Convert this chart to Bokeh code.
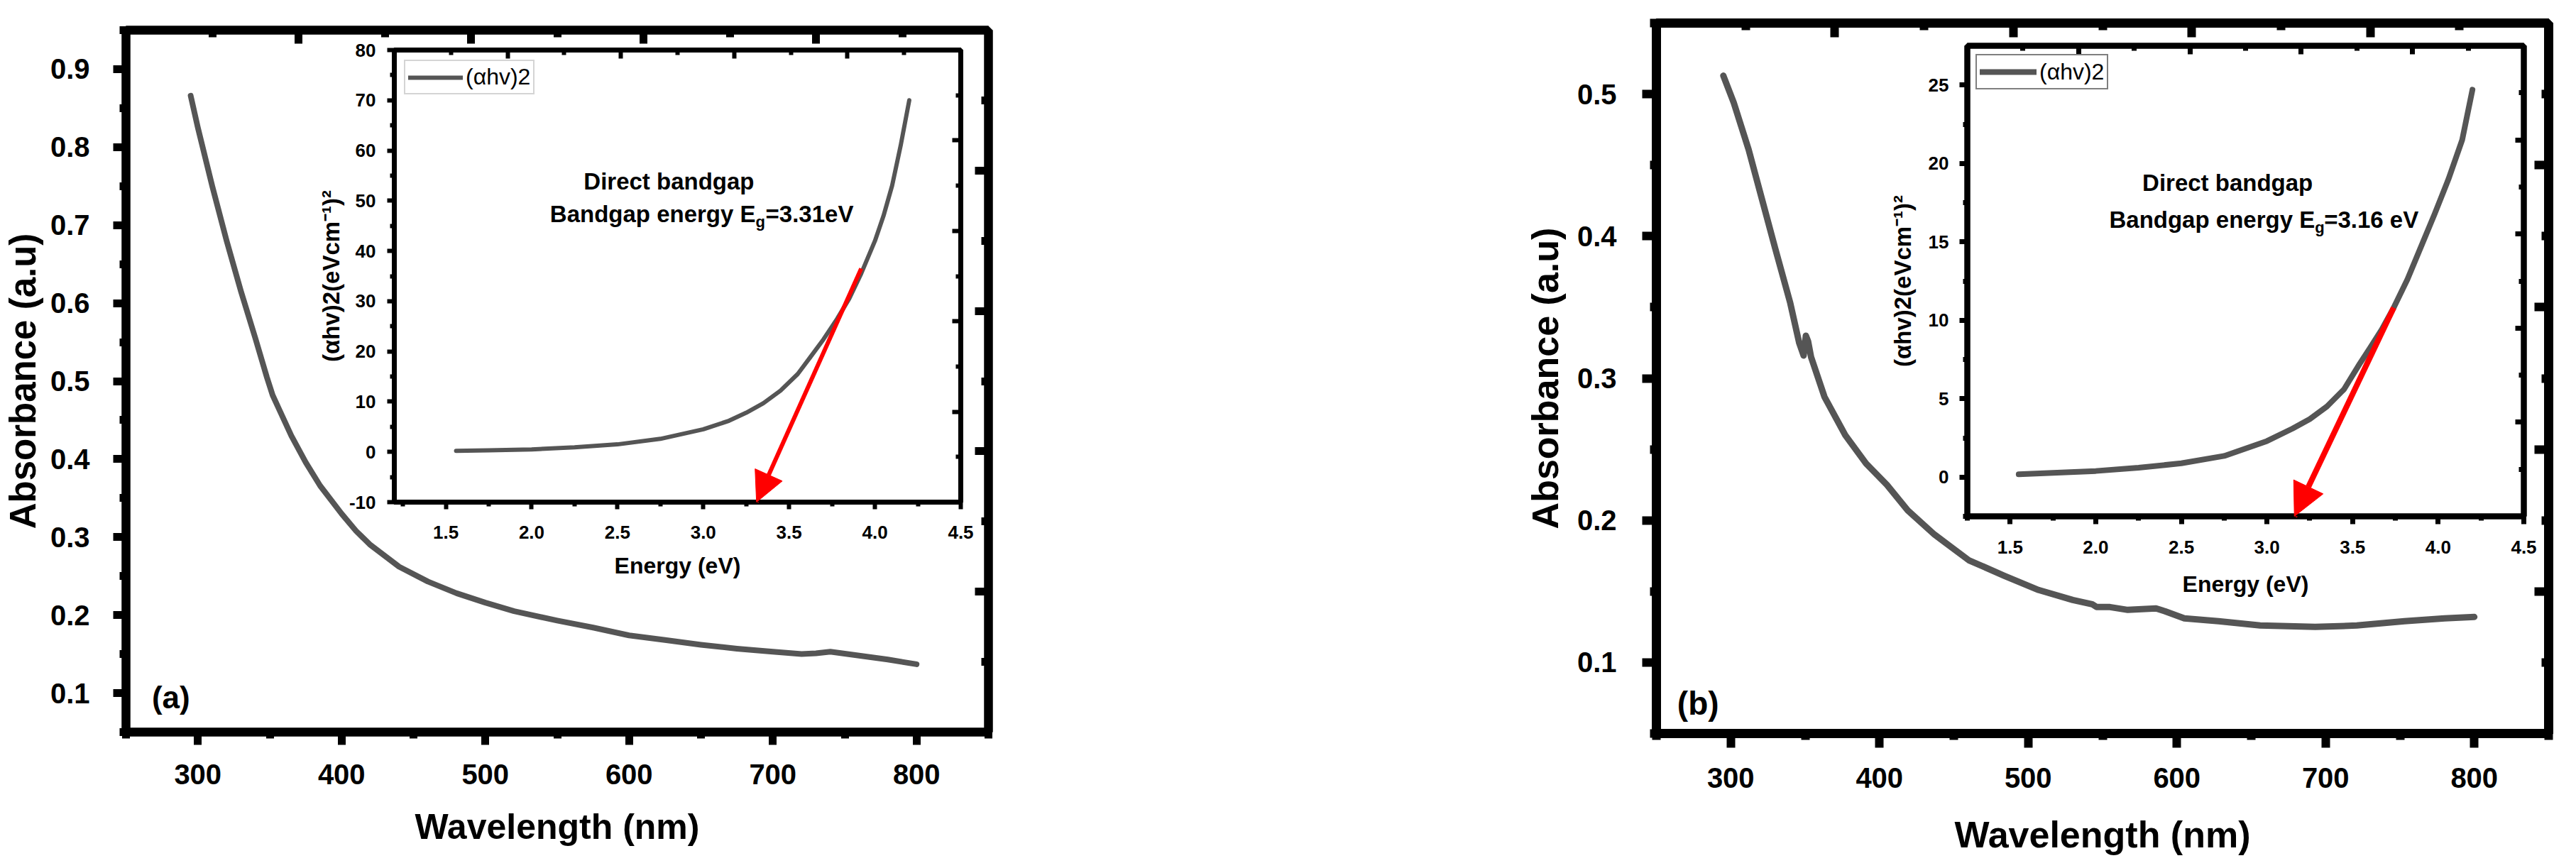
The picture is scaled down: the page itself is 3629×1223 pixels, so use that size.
from bokeh.plotting import figure
from bokeh.models import (Range1d, LinearAxis, FixedTicker, NumeralTickFormatter,
                          CustomJSTickFormatter, Arrow, NormalHead, Label, Legend,
                          LegendItem, Row, GridBox)
from bokeh.embed import file_html
from bokeh.resources import INLINE

FONT = "Liberation Sans"
GRAY = "#555555"

# ---------------- data ----------------
# panel (a) main: absorbance vs wavelength
wl_a = [295, 300, 310, 320, 330, 340, 348, 352, 356, 365, 375, 385, 400, 410, 420, 440,
        460, 480, 500, 520, 550, 575, 600, 625, 650, 675, 700, 720, 730, 740, 760, 780, 800]
abs_a = [0.866, 0.825, 0.75, 0.68, 0.615, 0.555, 0.505, 0.482, 0.466, 0.43, 0.396, 0.366,
         0.33, 0.308, 0.29, 0.262, 0.243, 0.228, 0.216, 0.205, 0.193, 0.184, 0.174, 0.168,
         0.162, 0.157, 0.153, 0.150, 0.151, 0.153, 0.148, 0.143, 0.137]
# panel (a) inset: (alpha h nu)^2 vs energy
E_a = [1.56, 1.75, 2.0, 2.25, 2.5, 2.75, 3.0, 3.15, 3.25, 3.35, 3.45, 3.55, 3.62, 3.7,
       3.78, 3.85, 3.92, 4.0, 4.05, 4.1, 4.15, 4.2]
ahv_a = [0.2, 0.3, 0.5, 0.9, 1.5, 2.6, 4.5, 6.2, 7.8, 9.7, 12.2, 15.5, 18.7, 22.4,
         26.5, 30.5, 35.5, 42, 47, 53, 61, 70]
fit_a_E = [3.92, 3.31]
fit_a_y = [36.5, -10]

# panel (b) main
wl_b = [295, 302, 312, 321, 330, 340, 346, 349, 350.5, 352, 354, 363, 377, 391, 405, 419,
        437, 460, 484, 507, 530, 543, 546, 555, 567, 586, 592, 605, 628, 656, 693, 721,
        753, 780, 800]
abs_b = [0.513, 0.494, 0.461, 0.426, 0.391, 0.353, 0.325, 0.316, 0.33, 0.326, 0.315,
         0.287, 0.26, 0.24, 0.225, 0.207, 0.19, 0.172, 0.161, 0.151, 0.144, 0.141, 0.139,
         0.139, 0.137, 0.138, 0.136, 0.131, 0.129, 0.126, 0.125, 0.126, 0.129, 0.131, 0.132]
# panel (b) inset
E_b = [1.55, 1.75, 2.0, 2.25, 2.5, 2.75, 3.0, 3.15, 3.25, 3.35, 3.45, 3.54, 3.6, 3.67,
       3.74, 3.82, 3.9, 3.98, 4.06, 4.14, 4.2]
ahv_b = [0.18, 0.27, 0.39, 0.6, 0.88, 1.35, 2.3, 3.1, 3.7, 4.5, 5.6, 7.2, 8.2, 9.4,
         10.8, 12.6, 14.7, 16.8, 19.0, 21.5, 24.7]
fit_b_E = [3.74, 3.16]
fit_b_y = [10.8, -2.5]

# ticks
wl_ticks = [300, 400, 500, 600, 700, 800]
wl_minor = [250, 350, 450, 550, 650, 750, 850]
abs_ticks_a = [0.1, 0.2, 0.3, 0.4, 0.5, 0.6, 0.7, 0.8, 0.9]
abs_minor_a = [0.05, 0.15, 0.25, 0.35, 0.45, 0.55, 0.65, 0.75, 0.85, 0.95]
abs_ticks_b = [0.1, 0.2, 0.3, 0.4, 0.5]
abs_minor_b = [0.05, 0.15, 0.25, 0.35, 0.45, 0.55]
E_ticks = [1.5, 2.0, 2.5, 3.0, 3.5, 4.0, 4.5]
E_minor = [1.25, 1.75, 2.25, 2.75, 3.25, 3.75, 4.25]
ahv_ticks_a = [-10, 0, 10, 20, 30, 40, 50, 60, 70, 80]
ahv_minor_a = [-5, 5, 15, 25, 35, 45, 55, 65, 75]
ahv_ticks_b = [0, 5, 10, 15, 20, 25]
ahv_minor_b = [-2.5, 2.5, 7.5, 12.5, 17.5, 22.5]
mirror_ticks = [1, 2, 3, 4]
mirror_minor = [0.5, 1.5, 2.5, 3.5, 4.5]

TITLE_X = "Wavelength (nm)"
TITLE_Y = "Absorbance (a.u)"
INSET_X = "Energy (eV)"
INSET_Y = "(αhv)2(eVcm⁻¹)²"

EMPTY = CustomJSTickFormatter(code="return '';")


def style_axis(ax, lw, tw, mo, mi, no, ni, lsize=None, lstand=0):
    ax.axis_line_width = lw
    ax.axis_line_color = "black"
    ax.major_tick_line_width = tw
    ax.minor_tick_line_width = tw
    ax.major_tick_line_color = "black"
    ax.minor_tick_line_color = "black"
    ax.major_tick_out = mo
    ax.major_tick_in = mi
    ax.minor_tick_out = no
    ax.minor_tick_in = ni
    ax.major_label_text_font = FONT
    ax.major_label_text_font_style = "bold"
    ax.major_label_text_color = "black"
    if lsize:
        ax.major_label_text_font_size = f"{lsize}px"
    ax.major_label_standoff = lstand


def title_axis(ax, text, size, stand):
    ax.axis_label = text
    ax.axis_label_text_font = FONT
    ax.axis_label_text_font_style = "bold"
    ax.axis_label_text_font_size = f"{size}px"
    ax.axis_label_text_color = "black"
    ax.axis_label_standoff = stand


def make_fig(width, height, bl, br, bt, bb, xr, yr, xt, xm, yt, ym, lw, tw, tick_out,
             minor_out, tick_in, minor_in, lsize, xstand, ystand, xfmt, yfmt,
             xtitle, ytitle, tsize_x, tsize_y, xtstand, ytstand, inset=False):
    p = figure(width=width, height=height, x_range=Range1d(*xr), y_range=Range1d(*yr),
               output_backend="svg", toolbar_location=None,
               min_border_left=bl, min_border_right=br, min_border_top=bt,
               min_border_bottom=bb)
    p.grid.visible = False
    p.outline_line_color = "black"
    p.outline_line_width = lw
    p.background_fill_color = "white"
    p.border_fill_color = None if inset else "white"
    xa = p.xaxis[0]
    ya = p.yaxis[0]
    xa.ticker = FixedTicker(ticks=xt, minor_ticks=xm)
    ya.ticker = FixedTicker(ticks=yt, minor_ticks=ym)
    xa.formatter = NumeralTickFormatter(format=xfmt)
    ya.formatter = NumeralTickFormatter(format=yfmt)
    style_axis(xa, lw, tw, tick_out, 0, minor_out, 0, lsize, xstand)
    style_axis(ya, lw, tw, tick_out, 0, minor_out, 0, lsize, ystand)
    title_axis(xa, xtitle, tsize_x, xtstand)
    title_axis(ya, ytitle, tsize_y, ytstand)
    p.extra_x_ranges = {"mirror": Range1d(0, 5)}
    p.extra_y_ranges = {"mirror": Range1d(0, 5)}
    top = LinearAxis(x_range_name="mirror", ticker=FixedTicker(ticks=mirror_ticks, minor_ticks=mirror_minor),
                     formatter=EMPTY)
    right = LinearAxis(y_range_name="mirror", ticker=FixedTicker(ticks=mirror_ticks, minor_ticks=mirror_minor),
                       formatter=EMPTY)
    style_axis(top, lw, tw, 0, tick_in, 0, minor_in, 2, 0)
    style_axis(right, lw, tw, 0, tick_in, 0, minor_in, 2, 0)
    p.add_layout(top, "above")
    p.add_layout(right, "right")
    return p


def label(p, x, y, text, size, align="left", xo=0, yo=0):
    p.add_layout(Label(x=x, y=y, x_offset=xo, y_offset=yo, text=text, text_font=FONT,
                       text_font_style="bold", text_font_size=f"{size}px",
                       text_align=align, text_baseline="middle", text_color="black"))


def eg_text(p, x, y, val, gap):
    label(p, x, y, "Bandgap energy E", 33, "right")
    label(p, x, y, "g", 22, "left", 0, -11)
    label(p, x, y, val, 33, "left", gap, 0)


def make_legend(r, margin, gw, gh, border):
    return Legend(items=[LegendItem(label="(αhv)2", renderers=[r])], location="top_left",
                  margin=margin, padding=4, spacing=0, glyph_width=gw, glyph_height=gh,
                  label_height=gh, label_standoff=4, label_text_font=FONT,
                  label_text_font_size="32px", label_text_color="black",
                  border_line_color=border, border_line_width=2)


H = 1207

# ---------- panel (a) ----------
main_a = make_fig(1850, H, 165, 458, 42, 176, (250, 850), (0.05, 0.95),
                  wl_ticks, wl_minor, abs_ticks_a, abs_minor_a, 12, 11, 18, 9, 19, 10,
                  40, 27, 33, "0", "0.0", TITLE_X, TITLE_Y, 50, 51, 29, 7)
main_a.line(wl_a, abs_a, line_color=GRAY, line_width=8, line_join="round", line_cap="round")
label(main_a, 268, 0.095, "(a)", 44)

inset_a = make_fig(939, 792, 110, 30, 25, 130, (1.2, 4.5), (-10, 80),
                   E_ticks, E_minor, ahv_ticks_a, ahv_minor_a, 7, 6, 10, 6, 12, 7,
                   26, 23, 16, "0.0", "0", INSET_X, INSET_Y, 32, 33, 17, 4, inset=True)
ra = inset_a.line(E_a, ahv_a, line_color=GRAY, line_width=6, line_join="round", line_cap="round")
inset_a.add_layout(Arrow(x_start=fit_a_E[0], y_start=fit_a_y[0], x_end=fit_a_E[1], y_end=fit_a_y[1],
                         line_color="red", line_width=6,
                         end=NormalHead(size=42, fill_color="red", line_color="red")))
label(inset_a, 2.80, 53.8, "Direct bandgap", 33, "center")
eg_text(inset_a, 3.305, 47.3, "=3.31eV", 14)
inset_a.add_layout(make_legend(ra, 14, 77, 36, "#aaaaaa"))

# ---------- panel (b) ----------
main_b = make_fig(1760, H, 483, 20, 32, 168, (250, 850), (0.05, 0.55),
                  wl_ticks, wl_minor, abs_ticks_b, abs_minor_b, 13, 12, 20, 9, 20, 10,
                  40, 28, 36, "0", "0.0", TITLE_X, TITLE_Y, 52, 52, 34, 13)
main_b.line(wl_b, abs_b, line_color=GRAY, line_width=9, line_join="round", line_cap="round")
label(main_b, 264, 0.071, "(b)", 46)

inset_b = make_fig(927, 818, 110, 30, 25, 130, (1.25, 4.5), (-2.5, 27.5),
                   E_ticks, E_minor, ahv_ticks_b, ahv_minor_b, 8, 7, 11, 6, 12, 7,
                   26, 23, 15, "0.0", "0", INSET_X, INSET_Y, 32, 33, 22, 15, inset=True)
rb = inset_b.line(E_b, ahv_b, line_color=GRAY, line_width=8, line_join="round", line_cap="round")
inset_b.add_layout(Arrow(x_start=fit_b_E[0], y_start=fit_b_y[0], x_end=fit_b_E[1], y_end=fit_b_y[1],
                         line_color="red", line_width=8,
                         end=NormalHead(size=46, fill_color="red", line_color="red")))
label(inset_b, 2.77, 18.75, "Direct bandgap", 33, "center")
eg_text(inset_b, 3.28, 16.4, "=3.16 eV", 13)
inset_b.add_layout(make_legend(rb, 12, 80, 38, "black"))

# each panel: a grid whose inset cell overlaps the main plot
grid_a = GridBox(children=[(main_a, 0, 0, 3, 3), (inset_a, 1, 1, 1, 1)],
                 rows=["45px", "792px", "370px"], cols=["444px", "939px", "467px"],
                 spacing=0)
grid_b = GridBox(children=[(main_b, 0, 0, 3, 3), (inset_b, 1, 1, 1, 1)],
                 rows=["39px", "818px", "350px"], cols=["808px", "927px", "25px"],
                 spacing=0)

root = Row(children=[grid_a, grid_b])

open("out.html", "w").write(file_html(root, INLINE))
